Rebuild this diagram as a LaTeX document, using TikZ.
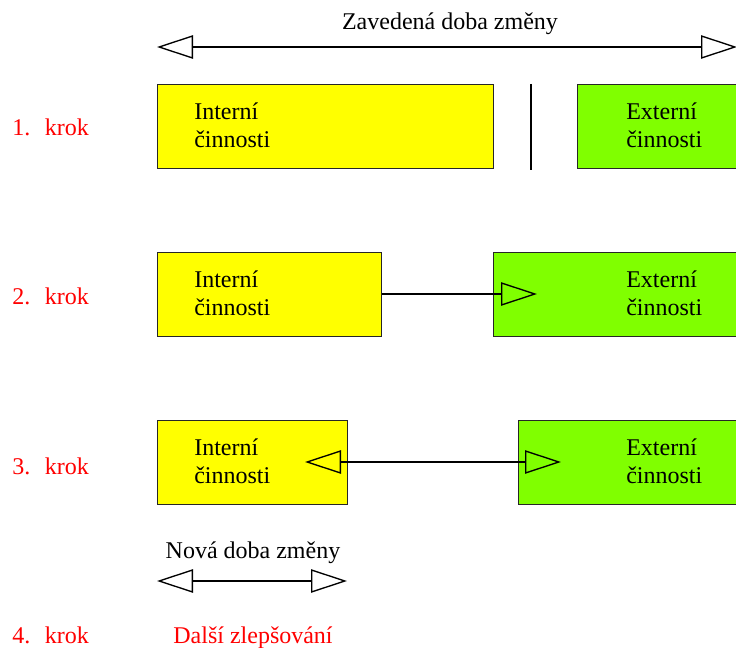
\documentclass[tikz,border=0pt]{standalone}
\usepackage{fontspec}
\setmainfont{Liberation Serif}
\usetikzlibrary{arrows.meta}
\definecolor{boxyellow}{HTML}{FFFF00}
\definecolor{boxgreen}{HTML}{80FF00}
\definecolor{stepred}{HTML}{FF0000}
\begin{document}
\begin{tikzpicture}[x=0.75pt,y=-0.75pt,
  box/.style={draw=black!85, line width=0.9pt, anchor=north west, inner sep=0pt, minimum height=63pt},
  yellowbox/.style={box, fill=boxyellow},
  greenbox/.style={box, fill=boxgreen},
  txt/.style={font=\fontsize{18pt}{21pt}\selectfont, align=left, inner sep=0pt, anchor=base west},
  ctxt/.style={font=\fontsize{18pt}{21pt}\selectfont, inner sep=0pt, anchor=base},
  steptxt/.style={txt, text=stepred},
  opentip/.tip={Triangle[open, length=27pt, width=17.5pt, line width=1pt]},
  conn/.style={line width=1.1pt, black},
  both/.style={conn, opentip-opentip},
  fwd/.style={conn, -opentip},
  bwd/.style={conn, opentip-}]
\useasboundingbox (0,0) rectangle (736,648);
\clip (0,0) rectangle (736,648);

% top: established changeover time
\node[ctxt] (title) at (450,30) {Zavedená doba změny};
\coordinate (tl) at (157,47);
\coordinate (tr) at (737,47);
\draw[both] (tl) -- (tr);

% step 1
\node[steptxt] (s1) at (12,136) {1.\hspace{11pt}krok};
\node[yellowbox, minimum width=252pt] (y1) at (157,84) {};
\node[greenbox, minimum width=140pt] (g1) at (577,84) {};
\node[txt] (y1t) at (194,148) {Interní\\činnosti};
\node[txt] (g1t) at (626,148) {Externí\\činnosti};
\coordinate (sepa) at (531,84);
\coordinate (sepb) at (531,170);
\draw[line width=1pt] (sepa) -- (sepb);

% step 2
\node[steptxt] (s2) at (12,305) {2.\hspace{11pt}krok};
\node[yellowbox, minimum width=168pt] (y2) at (157,252) {};
\node[greenbox, minimum width=200pt] (g2) at (493,252) {};
\node[txt] (y2t) at (194,316) {Interní\\činnosti};
\node[txt] (g2t) at (626,316) {Externí\\činnosti};
\coordinate (a2) at (537,294);
\draw[fwd] (y2.east |- a2) -- (a2);

% step 3
\node[steptxt] (s3) at (12,475) {3.\hspace{11pt}krok};
\node[yellowbox, minimum width=142.5pt] (y3) at (157,420) {};
\node[greenbox, minimum width=182pt] (g3) at (518,420) {};
\node[txt] (y3t) at (194,484) {Interní\\činnosti};
\node[txt] (g3t) at (626,484) {Externí\\činnosti};
\coordinate (b3l) at (305,462);
\coordinate (b3r) at (561,462);
\draw[both] (b3l) -- (b3r);

% new changeover time
\node[ctxt] (newt) at (253,559) {Nová doba změny};
\coordinate (nl) at (157,581);
\coordinate (nr) at (347,581);
\draw[both] (nl) -- (nr);

% step 4
\node[steptxt] (s4) at (12,643) {4.\hspace{11pt}krok};
\node[ctxt, text=stepred] (more) at (253,643) {Další zlepšování};
\end{tikzpicture}
\end{document}
